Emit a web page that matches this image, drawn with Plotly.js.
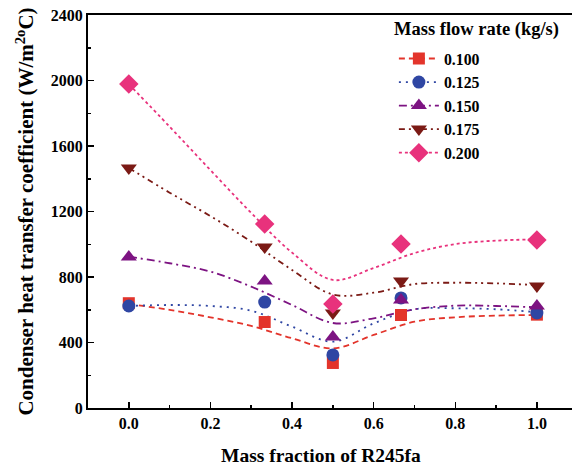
<!DOCTYPE html>
<html>
<head>
<meta charset="utf-8">
<script src="https://cdn.plot.ly/plotly-3.0.1.min.js"></script>
<style>html,body{margin:0;padding:0;background:#fff;}#chart{width:572px;height:467px;}</style>
</head>
<body>
<div id="chart"></div>
<script>
// Measured data points
const massFraction = [0, 0.333, 0.5, 0.667, 1.0];
const seriesNames = ["0.100", "0.125", "0.150", "0.175", "0.200"];
const h_0100 = [640, 525, 275, 568, 570];
const h_0125 = [623, 647, 324, 672, 580];
const h_0150 = [922, 775, 434, 660, 623];
const h_0175 = [1466, 983, 580, 775, 745];
const h_0200 = [1978, 1124, 635, 1002, 1026];

// Fitted curves
const curveX = [0, 0.1, 0.2, 0.3, 0.4, 0.5, 0.6, 0.7, 0.8, 0.9, 1.0];
const fit_0100 = [635, 599, 554, 501, 426, 364, 446, 527, 554, 564, 568];
const fit_0125 = [623, 629, 623, 594, 497, 405, 517, 603, 609, 603, 585];
const fit_0150 = [924, 884, 833, 741, 629, 519, 548, 603, 625, 623, 615];
const fit_0175 = [1466, 1315, 1172, 1016, 843, 693, 704, 757, 765, 761, 751];
const fit_0200 = [1978, 1718, 1453, 1191, 949, 782, 855, 946, 1001, 1022, 1030];

// Tick labels
const xTickVals = [0, 0.2, 0.4, 0.6, 0.8, 1.0];
const xTickText = ["0.0", "0.2", "0.4", "0.6", "0.8", "1.0"];
const yTickVals = [0, 400, 800, 1200, 1600, 2000, 2400];
const yTickText = ["0", "400", "800", "1200", "1600", "2000", "2400"];

const points = [h_0100, h_0125, h_0150, h_0175, h_0200];
const fits = [fit_0100, fit_0125, fit_0150, fit_0175, fit_0200];
const colors = ["#e3342b", "#2f46a3", "#7d1382", "#7b1a15", "#e8327c"];
const dashes = ["6px,4px", "2px,5px", "8px,4px,2px,4px", "6px,4px,2px,4px,2px,4px", "3px,3px"];
const symbols = ["square", "circle", "triangle-up", "triangle-down", "diamond"];
const sizes = [12, 13, 14, 14, 15];
const b = s => "<b>" + s + "</b>";

const traces = [];
for (let i = 0; i < 5; i++) {
  traces.push({
    x: curveX, y: fits[i], mode: "lines", line: {shape: "spline", color: colors[i], width: 1.8, dash: dashes[i]},
    showlegend: false, hoverinfo: "skip"
  });
}
for (let i = 0; i < 5; i++) {
  const xs = [], ys = [];
  massFraction.forEach((v, k) => { if (k) { xs.push(null); ys.push(null); } xs.push(v); ys.push(points[i][k]); });
  traces.push({
    x: xs, y: ys, name: b(seriesNames[i]), mode: "lines+markers", connectgaps: false,
    line: {color: colors[i], width: 1.8, dash: dashes[i]},
    marker: {symbol: symbols[i], size: sizes[i], color: colors[i]}
  });
}

const fam = "Liberation Serif, Times New Roman, serif";
const layout = {
  width: 572, height: 467,
  margin: {l: 88, r: 0, t: 15, b: 59},
  paper_bgcolor: "#fff", plot_bgcolor: "#fff",
  font: {family: fam, size: 16, color: "#000"},
  showlegend: true,
  legend: {
    x: 0.632, y: 0.932, xanchor: "left", yanchor: "top",
    bgcolor: "rgba(0,0,0,0)", tracegroupgap: 0,
    font: {family: fam, size: 15.8, color: "#000"},
    itemwidth: 40
  },
  annotations: [
    {text: b("Mass flow rate (kg/s)"), xref: "paper", yref: "paper", x: 0.628, y: 0.962, xanchor: "left", yanchor: "middle",
     showarrow: false, font: {family: fam, size: 18.5, color: "#000"}},
    {text: b("Mass fraction of R245fa"), xref: "paper", yref: "paper", x: 0.481, y: -0.12, xanchor: "center", yanchor: "middle",
     showarrow: false, font: {family: fam, size: 19.5, color: "#000"}}
  ],
  xaxis: {
    range: [-0.1, 1.086], showgrid: false, zeroline: false,
    showline: true, linewidth: 2, linecolor: "#000", mirror: true,
    ticks: "inside", ticklen: 6, tickwidth: 1.5, tickcolor: "#000",
    tickvals: xTickVals, ticktext: xTickText.map(b),
    minor: {ticks: "inside", ticklen: 3, tickwidth: 1.5, tickcolor: "#000", dtick: 0.1, tick0: 0.1, showgrid: false},
    tickfont: {family: fam, size: 16, color: "#000"}
  },
  yaxis: {
    range: [0, 2400], showgrid: false, zeroline: false,
    showline: true, linewidth: 2, linecolor: "#000",
    ticks: "inside", ticklen: 6, tickwidth: 1.5, tickcolor: "#000",
    tickvals: yTickVals, ticktext: yTickText.map(b),
    minor: {ticks: "inside", ticklen: 3, tickwidth: 1.5, tickcolor: "#000", dtick: 200, tick0: 200, showgrid: false},
    tickfont: {family: fam, size: 16, color: "#000"},
    title: {text: b("Condenser heat transfer coefficient (W/m<sup>2o</sup>C)"), font: {family: fam, size: 21, color: "#000"}, standoff: 11}
  }
};
Plotly.newPlot("chart", traces, layout, {displayModeBar: false, staticPlot: true});
</script>
</body>
</html>
